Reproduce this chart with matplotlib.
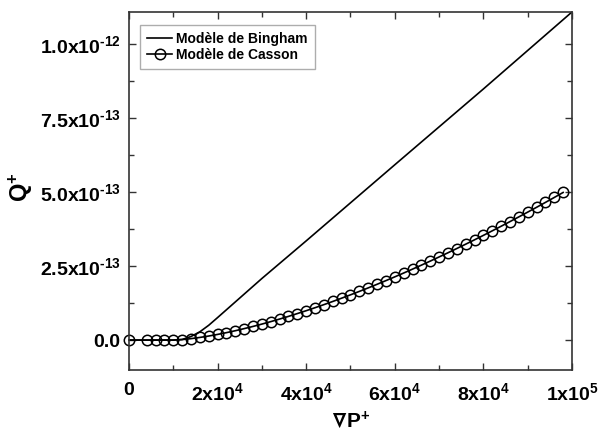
import matplotlib
matplotlib.use('Agg')
import matplotlib.pyplot as plt
from matplotlib.ticker import FixedLocator, MultipleLocator

plt.rcParams['font.family'] = ['Liberation Sans', 'DejaVu Sans']
plt.rcParams['font.weight'] = 'bold'
plt.rcParams['mathtext.fontset'] = 'custom'
plt.rcParams['mathtext.rm'] = 'Liberation Sans:bold'
plt.rcParams['mathtext.bf'] = 'Liberation Sans:bold'
plt.rcParams['mathtext.it'] = 'Liberation Sans:bold'
plt.rcParams['mathtext.fallback'] = 'stixsans'

# Bingham model, Q in units of 1e-13
bingham_x = [0, 10000, 12000, 14000, 16000, 18000, 20000, 25000, 30000,
             40000, 60000, 80000, 100000]
bingham_q = [0, 0, 0.02, 0.12, 0.28, 0.50, 0.76, 1.42, 2.08,
             3.35, 5.92, 8.48, 11.08]

# Casson model (markers), Q in units of 1e-13
casson_x = [0, 4000, 6000, 8000, 10000, 12000, 14000, 16000, 18000, 20000,
            22000, 24000, 26000, 28000, 30000, 32000, 34000, 36000, 38000,
            40000, 42000, 44000, 46000, 48000, 50000, 52000, 54000, 56000,
            58000, 60000, 62000, 64000, 66000, 68000, 70000, 72000, 74000,
            76000, 78000, 80000, 82000, 84000, 86000, 88000, 90000, 92000,
            94000, 96000, 98000]
casson_q = [0, 0, 0, 0, 0, 0.017, 0.048, 0.089, 0.137, 0.191,
            0.251, 0.316, 0.387, 0.461, 0.540, 0.623, 0.710, 0.800, 0.895,
            0.992, 1.093, 1.197, 1.304, 1.415, 1.528, 1.644, 1.762, 1.884,
            2.008, 2.135, 2.264, 2.396, 2.530, 2.667, 2.807, 2.948, 3.092,
            3.238, 3.386, 3.536, 3.689, 3.844, 4.001, 4.160, 4.321, 4.483,
            4.649, 4.816, 4.985]

x_ticks = [0, 20000, 40000, 60000, 80000, 100000]
x_labels = ['0', r'$\mathbf{2x10^{4}}$', r'$\mathbf{4x10^{4}}$',
            r'$\mathbf{6x10^{4}}$', r'$\mathbf{8x10^{4}}$', r'$\mathbf{1x10^{5}}$']
y_ticks = [0, 2.5e-13, 5.0e-13, 7.5e-13, 1.0e-12]
y_labels = ['0.0', r'$\mathbf{2.5x10^{\text{-}13}}$', r'$\mathbf{5.0x10^{\text{-}13}}$',
            r'$\mathbf{7.5x10^{\text{-}13}}$', r'$\mathbf{1.0x10^{\text{-}12}}$']

fig = plt.figure(figsize=(5.98, 4.34), dpi=100)
ax = fig.add_axes([0.2157, 0.1475, 0.7408, 0.8249])

ax.plot(bingham_x, [q * 1e-13 for q in bingham_q], color='black', lw=1.2,
        label='Modèle de Bingham')
ax.plot(casson_x, [q * 1e-13 for q in casson_q], color='black', lw=1.2,
        marker='o', ms=7.5, mfc='none', mec='black', mew=1.1,
        label='Modèle de Casson', clip_on=False)

ax.set_xlim(0, 100000)
ax.set_ylim(-1.01e-13, 1.108e-12)

ax.xaxis.set_major_locator(FixedLocator(x_ticks))
ax.xaxis.set_minor_locator(MultipleLocator(10000))
ax.yaxis.set_major_locator(FixedLocator(y_ticks))
ax.yaxis.set_minor_locator(FixedLocator([-1.25e-13 + 2.5e-13 * i for i in range(6)]))
ax.set_xticklabels(x_labels)
ax.set_yticklabels(y_labels)

ax.tick_params(which='both', direction='in', top=True, right=True,
               labelsize=14, color='#333333')
ax.tick_params(which='major', length=5, width=1.0, pad=9)
ax.tick_params(which='minor', length=3.5, width=1.0)
ax.tick_params(axis='y', pad=6)
for s in ax.spines.values():
    s.set_linewidth(1.2)
    s.set_color('#333333')

ax.set_xlabel(r'$\mathbf{\nabla P^{+}}$', fontsize=15)
ax.xaxis.set_label_coords(0.5, -0.112)
ax.set_ylabel(r'$\mathbf{Q^{+}}$', fontsize=17)
ax.yaxis.set_label_coords(-0.212, 0.51)

leg = ax.legend(loc='upper left', bbox_to_anchor=(0.025, 0.964), fontsize=10,
                frameon=True, fancybox=False, handlelength=1.8,
                handletextpad=0.3, borderpad=0.5, labelspacing=0.15,
                borderaxespad=0.0)
leg.get_frame().set_edgecolor('#999999')
leg.get_frame().set_linewidth(1.0)
for t in leg.get_texts():
    t.set_fontweight('bold')

fig.savefig('out.png', dpi=100)
